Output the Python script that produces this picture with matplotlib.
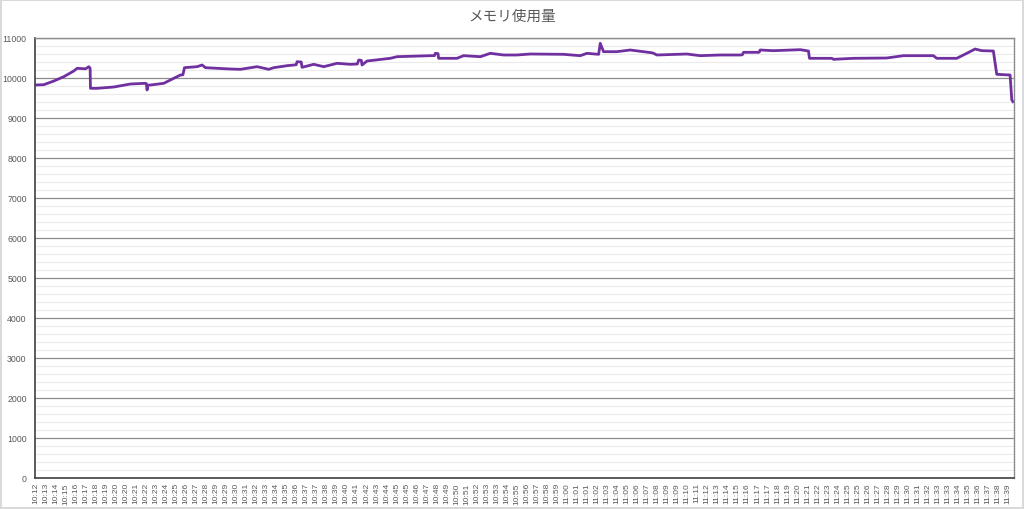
import matplotlib.pyplot as plt
from matplotlib.ticker import MultipleLocator

plt.rcParams['font.family'] = ['Liberation Sans', 'Noto Sans CJK JP', 'DejaVu Sans']

# x tick labels (one label every fixed number of samples)
time_labels = [
    '10:12', '10:13', '10:14', '10:15', '10:16', '10:17', '10:18', '10:19', '10:20', '10:20',
    '10:21', '10:22', '10:23', '10:24', '10:25', '10:26', '10:27', '10:28', '10:29', '10:29',
    '10:30', '10:31', '10:32', '10:33', '10:34', '10:35', '10:36', '10:37', '10:37', '10:38',
    '10:39', '10:40', '10:41', '10:42', '10:43', '10:44', '10:45', '10:45', '10:46', '10:47',
    '10:48', '10:49', '10:50', '10:51', '10:52', '10:53', '10:53', '10:54', '10:55', '10:56',
    '10:57', '10:58', '10:59', '11:00', '11:01', '11:01', '11:02', '11:03', '11:04', '11:05',
    '11:06', '11:07', '11:08', '11:09', '11:09', '11:10', '11:11', '11:12', '11:13', '11:14',
    '11:15', '11:16', '11:17', '11:17', '11:18', '11:19', '11:20', '11:21', '11:22', '11:23',
    '11:24', '11:25', '11:25', '11:26', '11:27', '11:28', '11:29', '11:30', '11:31', '11:32',
    '11:33', '11:33', '11:34', '11:35', '11:36', '11:37', '11:38', '11:39',
]

# position along the axis, in units of label steps
sample_pos = [
    0.0, 0.83, 1.83, 2.82, 3.82, 4.15, 5.0, 5.32, 5.45, 5.48, 6.15, 7.81, 9.47, 10.97,
    11.05, 11.13, 11.2, 11.47, 12.79, 13.79, 14.46, 14.7, 14.86, 16.12, 16.62, 16.95,
    19.44, 20.44, 22.1, 23.26, 23.76, 25.1, 26.0, 26.09, 26.5, 26.59, 27.75, 28.75,
    30.08, 31.41, 32.1, 32.24, 32.5, 32.57, 33.07, 35.39, 36.06, 39.38, 39.8, 39.88,
    40.15, 40.21, 42.04, 42.7, 44.37, 45.36, 46.69, 48.02, 49.35, 52.67, 54.34, 55.0,
    56.17, 56.33, 56.66, 57.99, 59.32, 61.5, 61.65, 61.98, 64.97, 66.3, 68.29, 70.29,
    70.5, 70.62, 72.12, 72.2, 72.28, 73.61, 76.27, 77.1, 77.2, 79.43, 79.59, 81.59,
    84.91, 86.57, 89.56, 89.89, 91.89, 92.89, 93.72, 94.38, 95.54, 95.88, 97.21, 97.38,
    97.5,
]
memory_used = [
    9825, 9833, 9925, 10033, 10175, 10242, 10230, 10283, 10242, 9742, 9742, 9775, 9850, 9867,
    9860, 9700, 9820, 9825, 9867, 9992, 10075, 10080, 10258, 10283, 10325, 10258,
    10225, 10217, 10283, 10217, 10258, 10308, 10330, 10408, 10400, 10267, 10342, 10283,
    10367, 10342, 10350, 10450, 10440, 10325, 10425, 10492, 10533, 10558, 10560, 10617,
    10610, 10492, 10492, 10558, 10533, 10617, 10575, 10575, 10600, 10592, 10558, 10617,
    10592, 10867, 10658, 10658, 10700, 10630, 10617, 10575, 10600, 10558, 10575, 10575,
    10580, 10642, 10642, 10650, 10700, 10683, 10708, 10675, 10492, 10492, 10467, 10492,
    10500, 10558, 10558, 10492, 10492, 10617, 10725, 10683, 10675, 10092, 10075, 9450,
    9408,
]

fig = plt.figure(figsize=(10.24, 5.10), dpi=100)
fig.patch.set_edgecolor('#D9D9D9')
fig.patch.set_linewidth(1.5)
ax = fig.add_axes([35 / 1024, 1 - 479 / 510, 979 / 1024, 440 / 510])

ax.plot(sample_pos, memory_used, color='#7030A0', linewidth=2.0, solid_joinstyle='round')

# axes and grid
ax.set_ylim(0, 11000)
ax.set_xlim(-0.05, 97.6)
ax.yaxis.set_major_locator(MultipleLocator(1000))
ax.yaxis.set_minor_locator(MultipleLocator(200))
ax.grid(axis='y', which='major', color='#8C8C8C', linewidth=0.9)
ax.grid(axis='y', which='minor', color='#EBEBEB', linewidth=0.8)
ax.set_axisbelow(True)

ax.set_xticks(range(len(time_labels)))
ax.set_xticklabels(time_labels, rotation=90, fontsize=6.0, color='#595959')
ax.tick_params(axis='x', length=0, pad=3)
ax.tick_params(axis='y', which='both', length=0, labelsize=6.3, labelcolor='#595959', pad=6)

for side in ['left', 'bottom']:
    ax.spines[side].set_color('#404040')
    ax.spines[side].set_linewidth(1.2)
for side in ['top', 'right']:
    ax.spines[side].set_color('#8C8C8C')
    ax.spines[side].set_linewidth(1.0)

fig.text(0.5, 1 - 17 / 510, 'メモリ使用量', ha='center', va='center',
         fontsize=10.5, color='#595959', family=['Noto Sans CJK JP', 'DejaVu Sans'])

fig.savefig('out.png', dpi=100)
